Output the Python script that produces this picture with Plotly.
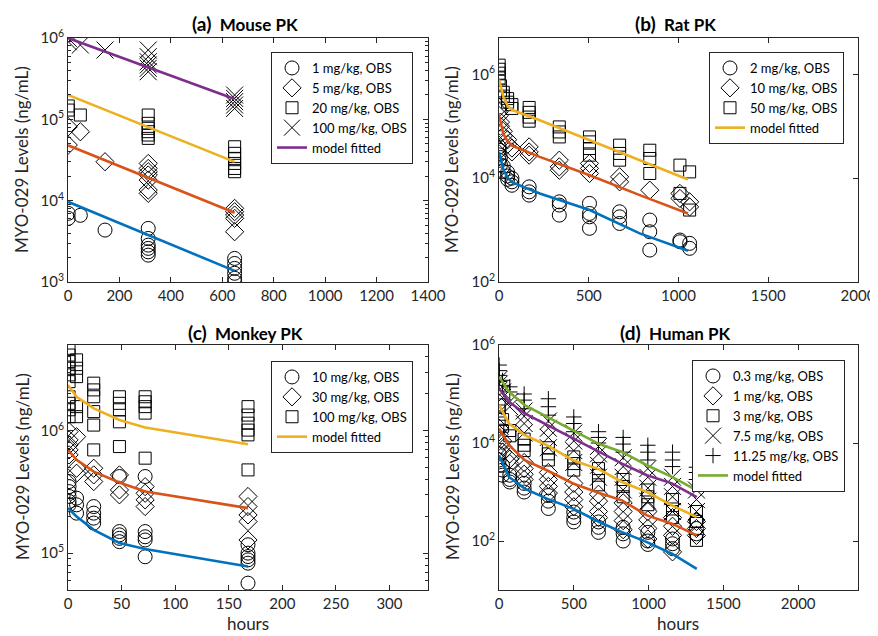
import plotly.graph_objects as go

# ---------------- data ----------------
# (a) Mouse PK  (hours, ng/mL)
mouse_t = [1, 48, 144, 312, 648]
mouse_1mg = [[6980, 6060], [6600], [4350], [4560, 3430, 2840, 2590, 2350, 2140],
             [1950, 1690, 1470, 1280, 1110, 1010]]
mouse_5mg = [[81000, 48300], [70300], [30100], [28700, 24900, 22700, 20700, 17900, 13500, 12300],
             [8040, 7320, 6660, 6060, 4150]]
mouse_20mg = [[146000, 130000], [113000], [], [113000, 89300, 77500, 70500, 64100, 58300],
              [46000, 38200, 33100, 28700, 24900, 22700]]
mouse_100mg = [[990000, 900000], [820000], [712000], [712000, 589000, 511000, 466000, 424000, 385000],
               [199000, 181000, 165000, 150000, 136000]]
mouse_model_t = [0, 648]
mouse_model_1mg = [9700, 1370]
mouse_model_5mg = [48000, 7100]
mouse_model_20mg = [200000, 30000]
mouse_model_100mg = [1000000, 178000]

# (b) Rat PK
rat_t = [1, 8, 24, 48, 72, 168, 336, 504, 672, 840, 1008, 1062]
rat_2mg = [[40000, 34500, 28000, 22000], [25000, 18000], [17000, 13500], [13000, 11000, 9500],
           [10000, 8500, 7300], [6800, 5450, 4710], [3500, 3030, 1940], [3260, 2090, 1800, 1080],
           [2250, 1800, 1340], [1560, 927, 412], [643, 596], [555, 445]]
rat_10mg = [[230000, 190000, 160000], [120000, 100000], [80000, 65000], [55000, 45000],
            [38000, 32000], [40000, 32000, 27700], [22200, 16500, 14200], [19200, 15400, 12300],
            [10600, 8490], [5870], [5080, 4070], [3500, 2800]]
rat_50mg = [[1500000, 1250000, 1050000, 850000], [600000, 480000], [450000, 380000], [340000, 290000],
            [260000, 220000], [230000, 185000, 150000, 125000], [97000, 77600, 62200],
            [62200, 49900, 37200, 27700], [43200, 29900, 22200], [34500, 23900, 12300],
            [17800, 5080], [13200, 2430]]
rat_model_t = [0, 25, 50, 75, 227, 505, 784, 1053]
rat_model_2mg = [32000, 14500, 10000, 8300, 5080, 2430, 863, 400]
rat_model_10mg = [163000, 70000, 50000, 42000, 25700, 11400, 4710, 2090]
rat_model_50mg = [790000, 360000, 240000, 205000, 130000, 53700, 22200, 9440]

# (c) Monkey PK
monkey_t = [1, 8, 24, 48, 72, 168]
monkey_10mg = [[384000, 349000, 318000, 290000, 264000, 248000], [281000, 248000, 212000],
               [240000, 212000, 193000, 176000], [422000, 150000, 141000, 132000, 124000],
               [422000, 150000, 136000, 128000, 93400], [117000, 100000, 93800, 88100, 82800, 56900]]
monkey_30mg = [[982000, 840000, 765000, 696000, 634000], [893000, 493000, 449000],
               [493000, 435000, 384000], [435000, 328000, 299000], [349000, 308000, 272000, 240000],
               [290000, 240000, 205000, 181000, 128000]]
monkey_100mg = [[4700000, 4140000, 3660000, 3230000, 2850000, 2510000, 1890000, 1670000, 1480000, 1300000],
                [3780000, 3230000, 2760000, 1570000, 1300000],
                [2440000, 2150000, 1890000, 1430000, 1110000, 696000],
                [1890000, 1670000, 1480000, 1180000, 741000],
                [1890000, 1720000, 1570000, 1390000, 596000],
                [1570000, 1340000, 1150000, 1010000, 923000, 478000]]
monkey_model_t = [0, 8, 24, 48, 72, 168]
monkey_model_10mg = [233000, 199000, 155000, 121000, 108000, 77800]
monkey_model_30mg = [696000, 577000, 463000, 377000, 318000, 233000]
monkey_model_100mg = [2360000, 1890000, 1520000, 1220000, 1060000, 774000]

# (d) Human PK
human_t = [1, 24, 72, 168, 330, 500, 665, 830, 995, 1160, 1320]
human_03mg = [[6000, 4500, 3500], [3500, 2800, 2200], [2200, 1800, 1600], [1500, 1200, 1000],
              [850, 650, 460], [390, 300, 245], [245, 190, 150], [190, 140, 100], [150, 100, 85],
              [110, 88, 70], [260, 180, 140]]
human_1mg = [[20000, 15000, 11000], [11000, 8500, 6500], [6000, 4700, 3800], [4000, 3000, 2300, 1800],
             [2500, 1800, 1300, 950], [1500, 1000, 700, 500], [900, 650, 400, 300],
             [600, 400, 260, 170], [400, 270, 180, 110], [300, 200, 130, 60], [250, 180, 130]]
human_3mg = [[60000, 45000, 32000], [30000, 22000], [18000, 14000], [12000, 9000, 7000],
             [8000, 6000, 4500], [5200, 3800, 2800], [3000, 2200, 1400], [1800, 1300, 800],
             [1100, 800, 550], [700, 450, 300], [400, 250, 103]]
human_75mg = [[200000, 160000, 120000], [110000, 85000], [70000, 55000], [45000, 35000, 25000, 16000],
              [28000, 20000, 13000, 8000], [16000, 11000, 7000, 4000], [8500, 6000, 3500, 2000],
              [5000, 3300, 2000, 1100], [3000, 2000, 1200, 650], [2000, 1300, 800, 400],
              [1100, 700, 400]]
human_1125mg = [[390000, 300000, 240000, 180000], [190000, 150000], [140000, 110000],
                [100000, 75000, 50000], [80000, 55000, 37000], [34000, 25000, 17000],
                [17000, 13000, 10000], [13000, 9500, 6500], [9000, 6500, 4500], [6500, 4500, 3300],
                [3200, 2500, 1800]]
human_model_t = [0, 67, 172, 320, 495, 670, 822, 989, 1156, 1322]
human_model_03mg = [5620, 2030, 1170, 733, 457, 244, 152, 95, 55, 27]
human_model_1mg = [19800, 9000, 4450, 2780, 1490, 950, 676, 333, 226, 130]
human_model_3mg = [59300, 25000, 14500, 9000, 4450, 2900, 1600, 1000, 535, 308]
human_model_75mg = [130000, 69000, 40000, 23100, 12400, 6600, 3800, 2200, 1500, 790]
human_model_1125mg = [225000, 111000, 59300, 34200, 18300, 9500, 6580, 3520, 2030, 1080]

# ---------------- styling ----------------
FONT = "Lato"
AX = "#262626"
C_BLUE, C_ORANGE, C_YELLOW = "#0072BD", "#D95319", "#EDB120"
C_PURPLE, C_GREEN = "#7E2F8E", "#77AC30"

# the page body keeps its default 8 px margin, so the figure is 8 px
# smaller than the window and every window position is shifted by 8 px
OFF = 8
FW, FH = 878 - OFF, 636 - OFF


def fx(x):
    return (x - OFF) / FW


def fy(y):
    return 1 - (y - OFF) / FH


fig = go.Figure()

SYM = {
    "circle": ("circle-open", 14),
    "diamond": ("diamond-open", 14),
    "square": ("square-open", 12),
    "x": ("x-thin-open", 17),
    "plus": ("cross-thin-open", 11),
}


def add_obs(ax, times, groups, kind, name, legend):
    xs, ys = [], []
    for t, vals in zip(times, groups):
        for v in vals:
            xs.append(t)
            ys.append(v)
    sym, size = SYM[kind]
    fig.add_trace(go.Scatter(
        x=xs, y=ys, mode="markers", name=name, legend=legend,
        xaxis="x" + ax, yaxis="y" + ax,
        marker=dict(symbol=sym, size=size, color="black", line=dict(color="black", width=1)),
    ))


def add_model(ax, t, v, color, legend, show):
    fig.add_trace(go.Scatter(
        x=t, y=v, mode="lines", name="model fitted", legend=legend, showlegend=show,
        xaxis="x" + ax, yaxis="y" + ax,
        line=dict(color=color, width=2.6),
    ))


# (a)
add_obs("", mouse_t, mouse_1mg, "circle", "1 mg/kg, OBS", "legend")
add_obs("", mouse_t, mouse_5mg, "diamond", "5 mg/kg, OBS", "legend")
add_obs("", mouse_t, mouse_20mg, "square", "20 mg/kg, OBS", "legend")
add_obs("", mouse_t, mouse_100mg, "x", "100 mg/kg, OBS", "legend")
add_model("", mouse_model_t, mouse_model_1mg, C_BLUE, "legend", False)
add_model("", mouse_model_t, mouse_model_5mg, C_ORANGE, "legend", False)
add_model("", mouse_model_t, mouse_model_20mg, C_YELLOW, "legend", False)
add_model("", mouse_model_t, mouse_model_100mg, C_PURPLE, "legend", True)

# (b)
add_obs("2", rat_t, rat_2mg, "circle", "2 mg/kg, OBS", "legend2")
add_obs("2", rat_t, rat_10mg, "diamond", "10 mg/kg, OBS", "legend2")
add_obs("2", rat_t, rat_50mg, "square", "50 mg/kg, OBS", "legend2")
add_model("2", rat_model_t, rat_model_2mg, C_BLUE, "legend2", False)
add_model("2", rat_model_t, rat_model_10mg, C_ORANGE, "legend2", False)
add_model("2", rat_model_t, rat_model_50mg, C_YELLOW, "legend2", True)

# (c)
add_obs("3", monkey_t, monkey_10mg, "circle", "10 mg/kg, OBS", "legend3")
add_obs("3", monkey_t, monkey_30mg, "diamond", "30 mg/kg, OBS", "legend3")
add_obs("3", monkey_t, monkey_100mg, "square", "100 mg/kg, OBS", "legend3")
add_model("3", monkey_model_t, monkey_model_10mg, C_BLUE, "legend3", False)
add_model("3", monkey_model_t, monkey_model_30mg, C_ORANGE, "legend3", False)
add_model("3", monkey_model_t, monkey_model_100mg, C_YELLOW, "legend3", True)

# (d)
add_obs("4", human_t, human_03mg, "circle", "0.3 mg/kg, OBS", "legend4")
add_obs("4", human_t, human_1mg, "diamond", "1 mg/kg, OBS", "legend4")
add_obs("4", human_t, human_3mg, "square", "3 mg/kg, OBS", "legend4")
add_obs("4", human_t, human_75mg, "x", "7.5 mg/kg, OBS", "legend4")
add_obs("4", human_t, human_1125mg, "plus", "11.25 mg/kg, OBS", "legend4")
add_model("4", human_model_t, human_model_03mg, C_BLUE, "legend4", False)
add_model("4", human_model_t, human_model_1mg, C_ORANGE, "legend4", False)
add_model("4", human_model_t, human_model_3mg, C_YELLOW, "legend4", False)
add_model("4", human_model_t, human_model_75mg, C_PURPLE, "legend4", False)
add_model("4", human_model_t, human_model_1125mg, C_GREEN, "legend4", True)

# ---------------- layout ----------------
LEFT = (fx(68), fx(428))
RIGHT = (fx(499), fx(858))
TOP = (fy(282), fy(38))
BOT = (fy(590), fy(345))

tickfont = dict(family=FONT, size=15, color=AX)


def xax(domain, anchor, rng, dtick):
    return dict(domain=domain, anchor=anchor, range=rng, dtick=dtick, tick0=0,
                showline=True, linecolor=AX, linewidth=1, mirror="ticks",
                ticks="inside", ticklen=5, tickcolor=AX, showgrid=False, zeroline=False,
                tickfont=tickfont, automargin=False)


def sup(v):
    import math
    return "10<sup>%d</sup>" % round(math.log10(v))


def yax(domain, anchor, rng, major, minor):
    d = dict(domain=domain, anchor=anchor, type="log", range=rng,
             tickmode="array", tickvals=major, ticktext=[sup(v) for v in major],
             showline=True, linecolor=AX, linewidth=1, mirror="ticks",
             ticks="inside", ticklen=5, tickcolor=AX, showgrid=False, zeroline=False,
             tickfont=tickfont, automargin=False)
    if minor:
        d["minor"] = dict(tickmode="array", tickvals=minor, ticks="inside", ticklen=3,
                          tickcolor=AX, showgrid=False)
    return d


minor_a = [m * 10 ** e for e in (3, 4, 5) for m in range(2, 10)]
minor_c = [m * 10 ** 4 for m in range(5, 10)] + [m * 10 ** 5 for m in range(2, 10)] + \
          [m * 10 ** 6 for m in range(2, 6)]


def legend_box(x0, y0):
    return dict(x=fx(x0), y=fy(y0), xanchor="left", yanchor="top",
                bordercolor=AX, borderwidth=1, bgcolor="white",
                font=dict(family=FONT, size=13, color="black"),
                tracegroupgap=0, itemwidth=30)


annotations = []


def title(text_tag, text, xc, yc):
    annotations.append(dict(
        text="<b><span style='font-size:19px'>%s</span>  %s</b>" % (text_tag, text),
        x=fx(xc), y=fy(yc), xref="paper", yref="paper", showarrow=False,
        xanchor="center", yanchor="middle", font=dict(family=FONT, size=17, color="black")))


def ylabel(xc, yc):
    annotations.append(dict(
        text="MYO-029 Levels (ng/mL)", textangle=-90,
        x=fx(xc), y=fy(yc), xref="paper", yref="paper", showarrow=False,
        xanchor="center", yanchor="middle", font=dict(family=FONT, size=17, color=AX)))


def xlabel(xc, yc):
    annotations.append(dict(
        text="hours", x=fx(xc), y=fy(yc), xref="paper", yref="paper", showarrow=False,
        xanchor="center", yanchor="middle", font=dict(family=FONT, size=17, color=AX)))


title("(a)", "Mouse PK", 245, 24)
title("(b)", "Rat PK", 675, 24)
title("(c)", "Monkey PK", 245, 332)
title("(d)", "Human PK", 675, 332)
ylabel(22, 160)
ylabel(452, 160)
ylabel(22, 467)
ylabel(452, 467)
xlabel(248, 623)
xlabel(678, 623)

fig.update_layout(
    width=FW, height=FH, margin=dict(l=0, r=0, t=0, b=0, autoexpand=False),
    paper_bgcolor="white", plot_bgcolor="white",
    font=dict(family=FONT, color=AX),
    xaxis=xax(LEFT, "y", [0, 1400], 200),
    yaxis=yax(TOP, "x", [3, 6], [1e3, 1e4, 1e5, 1e6], minor_a),
    xaxis2=xax(RIGHT, "y2", [0, 2000], 500),
    yaxis2=yax(TOP, "x2", [2, 6.699], [1e2, 1e4, 1e6], None),
    xaxis3=xax(LEFT, "y3", [0, 336], 50),
    yaxis3=yax(BOT, "x3", [4.699, 6.699], [1e5, 1e6], minor_c),
    xaxis4=xax(RIGHT, "y4", [0, 2400], 500),
    yaxis4=yax(BOT, "x4", [1, 6], [1e2, 1e4, 1e6], None),
    legend=legend_box(271, 52),
    legend2=legend_box(709, 52),
    legend3=legend_box(271, 361),
    legend4=legend_box(692, 360),
    annotations=annotations,
)

fig.write_html("out.html")
